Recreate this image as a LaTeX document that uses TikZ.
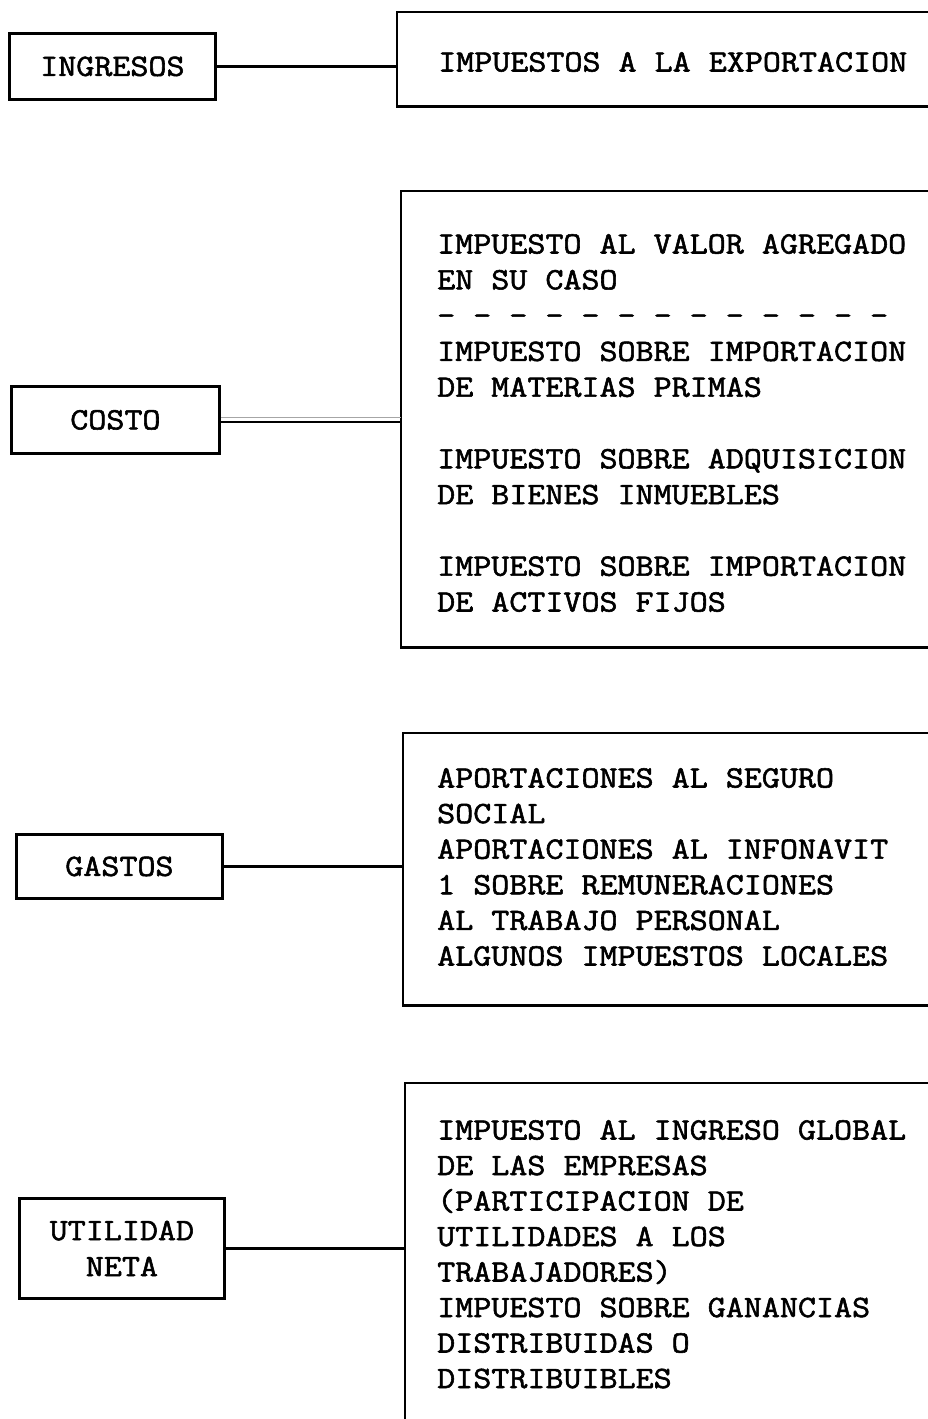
\documentclass[tikz,border=0pt]{standalone}
\usepackage{fontspec}
\newfontfamily\tw{Latin Modern Mono}[FakeBold=1.8,FakeStretch=1.13]
\begin{document}
\begin{tikzpicture}[x=1pt,y=-1pt,
  txtfont/.style={font=\tw\fontsize{31}{36}\selectfont},
  lbox/.style={draw,line width=2.8pt,inner sep=0pt,anchor=north west,txtfont,align=center},
  rbox/.style={inner sep=0pt,anchor=north west,minimum width=560pt},
  rtxt/.style={anchor=base west,inner sep=0pt,txtfont},
  border/.style={line width=2.8pt},
  conn/.style={line width=2.4pt}]
\useasboundingbox[fill=white] (0,0) rectangle (928,1419);

% left boxes
\node[lbox,minimum width=206pt,minimum height=66pt] (ing) at (8,32) {INGRESOS};
\node[lbox,minimum width=208pt,minimum height=67pt] (costo) at (10,385) {COSTO};
\node[lbox,minimum width=206pt,minimum height=64pt] (gastos) at (15,833) {GASTOS};
\node[lbox,minimum width=205pt,minimum height=100pt] (util) at (18,1197) {UTILIDAD\\NETA};

% right boxes (open to the right)
\node[rbox,minimum height=94pt] (r1) at (397,12) {};
\node[rbox,minimum height=456pt] (r2) at (401,191) {};
\node[rbox,minimum height=272pt] (r3) at (403,733) {};
\node[rbox,minimum height=420pt] (r4) at (405,1083) {};
\foreach \b in {r1,r2,r3,r4}
  \draw[border] (\b.north east) -- (\b.north west) -- (\b.south west) -- (\b.south east);

% connectors
\draw[conn] (ing.east) -- (ing.east -| r1.west);
\draw[line width=1.8pt,transform canvas={yshift=-2pt}] (costo.east) -- (costo.east -| r2.west);
\draw[line width=0.9pt,black!35,transform canvas={yshift=2pt}] (costo.east) -- (costo.east -| r2.west);
\draw[conn] (gastos.east) -- (gastos.east -| r3.west);
\draw[conn] (util.east) -- (util.east -| r4.west);

% texts box 1
\node[rtxt] (t1a) at (438,71.5) {IMPUESTOS A LA EXPORTACION};
% texts box 2
\node[rtxt] (t2a) at (437,253.5) {IMPUESTO AL VALOR AGREGADO};
\node[rtxt] (t2b) at (437,289.3) {EN SU CASO};
\node[rtxt] (t2c) at (437,325.1) {- - - - - - - - - - - - -};
\node[rtxt] (t2d) at (437,360.9) {IMPUESTO SOBRE IMPORTACION};
\node[rtxt] (t2e) at (437,396.7) {DE MATERIAS PRIMAS};
\node[rtxt] (t2f) at (437,468.3) {IMPUESTO SOBRE ADQUISICION};
\node[rtxt] (t2g) at (437,504.1) {DE BIENES INMUEBLES};
\node[rtxt] (t2h) at (437,575.7) {IMPUESTO SOBRE IMPORTACION};
\node[rtxt] (t2i) at (437,611.5) {DE ACTIVOS FIJOS};
% texts box 3
\node[rtxt] (t3a) at (437,787.5) {APORTACIONES AL SEGURO};
\node[rtxt] (t3b) at (437,823.1) {SOCIAL};
\node[rtxt] (t3c) at (437,858.7) {APORTACIONES AL INFONAVIT};
\node[rtxt] (t3d) at (437,894.3) {1 SOBRE REMUNERACIONES};
\node[rtxt] (t3e) at (437,929.9) {AL TRABAJO PERSONAL};
\node[rtxt] (t3f) at (437,965.5) {ALGUNOS IMPUESTOS LOCALES};
% texts box 4
\node[rtxt] (t4a) at (437,1139.5) {IMPUESTO AL INGRESO GLOBAL};
\node[rtxt] (t4b) at (437,1175) {DE LAS EMPRESAS};
\node[rtxt] (t4c) at (437,1210.5) {(PARTICIPACION DE};
\node[rtxt] (t4d) at (437,1246) {UTILIDADES A LOS};
\node[rtxt] (t4e) at (437,1281.5) {TRABAJADORES)};
\node[rtxt] (t4f) at (437,1317) {IMPUESTO SOBRE GANANCIAS};
\node[rtxt] (t4g) at (437,1352.5) {DISTRIBUIDAS O};
\node[rtxt] (t4h) at (437,1388) {DISTRIBUIBLES};
\end{tikzpicture}
\end{document}
